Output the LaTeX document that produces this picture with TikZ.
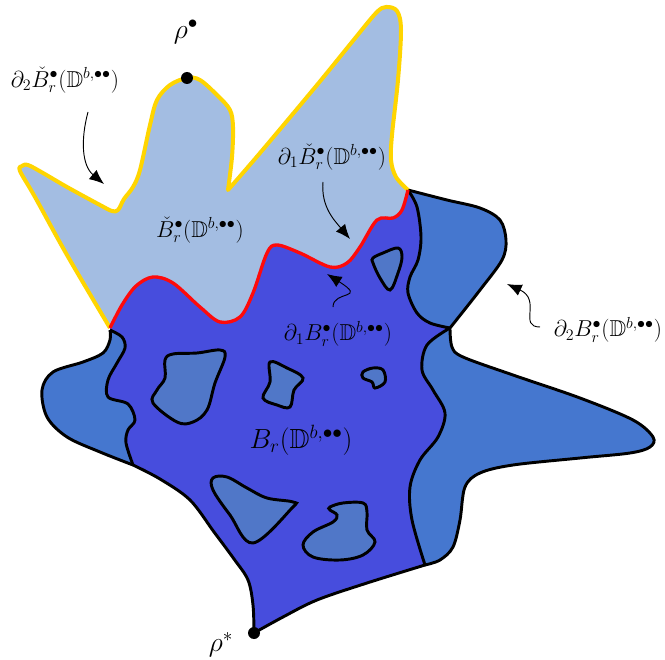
\documentclass[tikz,border=0pt]{standalone}
\usepackage{amsmath,amssymb}
\usepackage{tikz}
\usetikzlibrary{arrows.meta}
\definecolor{paleblue}{HTML}{A3BDE2}
\definecolor{deepblue}{HTML}{474DDD}
\definecolor{midblue}{HTML}{4577CF}
\definecolor{holeblue}{HTML}{5077C8}
\definecolor{goldline}{HTML}{FFD500}
\definecolor{redline}{HTML}{FF0A0A}
\newcommand{\yellowseg}{-- plot[smooth,tension=.55] coordinates {(110,328) (67,255) (35,197) (20,171) (22,166) (28,165) (43,173) (67,187) (100,205) (112,211) (118,210) (124,199) (133,187) (140,170) (150,125) (157,100) (170,85) (187,78) (200,80) (218,96) (230,110) (233,127) (232,157) (228,190)} -- plot[smooth,tension=.55] coordinates {(228,190) (260,153) (317,85) (352,42) (376,13) (386,7) (397,11) (401,30) (398,80) (392,135) (391,160) (396,177) (408,190)}}
\newcommand{\redseg}{-- plot[smooth,tension=.55] coordinates {(110,328) (122,305) (136,286) (153,277) (173,283) (200,307) (220,322) (240,317) (253,293) (267,253) (277,245) (300,253) (330,267) (347,263) (360,247) (377,220) (393,218) (402,210) (408,190)}}
\newcommand{\innerrightA}{-- plot[smooth,tension=.55] coordinates {(408,190) (417,207) (421,237) (418,260) (410,277) (408,293) (417,313) (430,323) (450,328)}}
\newcommand{\innerrightB}{-- plot[smooth,tension=.55] coordinates {(450,328) (427,345) (422,370) (433,390) (445,413) (438,437) (420,460) (410,487) (412,520) (425,565)}}
\newcommand{\outerrightA}{-- plot[smooth,tension=.55] coordinates {(408,190) (447,200) (480,208) (500,220) (506,240) (502,260) (480,290) (450,328)}}
\newcommand{\outerrightB}{-- plot[smooth,tension=.55] coordinates {(450,328) (452,347) (463,357) (513,375) (580,398) (633,420) (653,437) (650,447) (630,453) (580,458) (513,465) (480,473) (465,487) (460,520) (453,547) (440,560) (425,565)}}
\newcommand{\bottomseg}{-- plot[smooth,tension=.55] coordinates {(425,565) (367,583) (317,600) (283,617) (254,633)} -- plot[smooth,tension=.55] coordinates {(254,633) (253,605) (248,580) (234,559) (214,532) (190,500) (160,479) (133,465)}}
\newcommand{\innerleft}{-- plot[smooth,tension=.55] coordinates {(133,465) (126,443) (128,430) (135,420) (128,404) (108,397) (108,380) (117,363) (125,348) (122,337) (110,330)}}
\newcommand{\outerleft}{-- plot[smooth,tension=.55] coordinates {(133,465) (100,452) (67,437) (47,417) (42,390) (53,372) (83,362) (103,353) (110,340) (110,330)}}

\begin{document}
\begin{tikzpicture}[x=0.75pt,y=-0.75pt,
  edge/.style={line width=2.2pt,line join=round},
  blob/.style={fill=holeblue,draw=black,line width=2.2pt},
  lbl/.style={font=\LARGE,inner sep=1pt},
  dot/.style={circle,fill=black,inner sep=0pt,minimum size=9pt},
  pointer/.style={-{Latex[length=11pt,width=9pt]},line width=0.7pt}]
  \useasboundingbox (0,0) rectangle (665,660);
  \fill[midblue] (110,328) \redseg \outerrightA \outerrightB \bottomseg \outerleft -- cycle;
  \fill[paleblue] (110,328) \yellowseg \innerrightA \innerrightB \bottomseg \innerleft -- cycle;
  \fill[deepblue] (110,328) \redseg \innerrightA \innerrightB \bottomseg \innerleft -- cycle;
  \draw[edge] (408,190) \outerrightA \outerrightB;
  \draw[edge] (408,190) \innerrightA \innerrightB \bottomseg \outerleft;
  \draw[edge] (133,465) \innerleft;
  \draw[goldline,line width=3pt,line join=round] (110,328) \yellowseg;
  \draw[redline,line width=2.5pt] (110,328) \redseg;
  \draw[blob] plot[smooth cycle,tension=.6] coordinates {(373,258) (383,253) (398,248) (402,257) (398,273) (390,290) (380,278) (373,263)};
  \draw[blob] plot[smooth cycle,tension=.6] coordinates {(165,360) (173,354) (197,353) (220,350) (225,357) (215,383) (207,410) (193,422) (177,422) (153,403) (157,390) (165,378)};
  \draw[blob] plot[smooth cycle,tension=.6] coordinates {(270,362) (287,368) (303,378) (294,390) (290,407) (277,405) (263,398) (270,382)};
  \draw[blob] plot[smooth cycle,tension=.6] coordinates {(363,372) (373,368) (383,370) (385,382) (375,388) (372,382) (363,378)};
  \draw[blob] plot[smooth cycle,tension=.6] coordinates {(213,478) (227,477) (247,488) (267,498) (293,502) (292,508) (253,543) (230,515) (213,490)};
  \draw[blob] plot[smooth cycle,tension=.6] coordinates {(330,507) (343,503) (363,503) (367,512) (367,530) (375,542) (363,555) (340,560) (313,557) (303,545) (313,532) (333,522) (337,515) (330,510)};
  \node[dot] (rhotop) at (187,78) {};
  \node[dot] (rhostar) at (254,633) {};
  \node[lbl,font=\huge] (rhotoplbl) at (186,32) {$\rho^\bullet$};
  \node[lbl,font=\huge] (rhostarlbl) at (221,645) {$\rho^*$};
  \node[lbl] (dtwocheck) at (65,80) {$\partial_2\check B^\bullet_r(\mathbb{D}^{b,\bullet\bullet})$};
  \node[lbl] (checkball) at (200,230) {$\check B^\bullet_r(\mathbb{D}^{b,\bullet\bullet})$};
  \node[lbl] (donecheck) at (332,157) {$\partial_1\check B^\bullet_r(\mathbb{D}^{b,\bullet\bullet})$};
  \node[lbl] (doneball) at (338,334) {$\partial_1 B^\bullet_r(\mathbb{D}^{b,\bullet\bullet})$};
  \node[lbl] (dtwoball) at (608,330) {$\partial_2 B^\bullet_r(\mathbb{D}^{b,\bullet\bullet})$};
  \node[lbl,font=\huge] (ball) at (301,440) {$B_r(\mathbb{D}^{b,\bullet\bullet})$};
  \coordinate (tailA) at (88,112);  \coordinate (tipA) at (104,184);
  \coordinate (tailB) at (323,182); \coordinate (tipB) at (350,239);
  \coordinate (tailC) at (333,307); \coordinate (tipC) at (327,274);
  \coordinate (tailD) at (540,327); \coordinate (tipD) at (507,284);
  \draw[pointer] (tailA) to[out=-105,in=140] (tipA);
  \draw[pointer] (tailB) to[out=-95,in=130] (tipB);
  \draw[pointer] (tailC) .. controls (333,290) and (368,300) .. (tipC);
  \draw[pointer] (tailD) .. controls (518,327) and (542,300) .. (tipD);
\end{tikzpicture}
\end{document}
